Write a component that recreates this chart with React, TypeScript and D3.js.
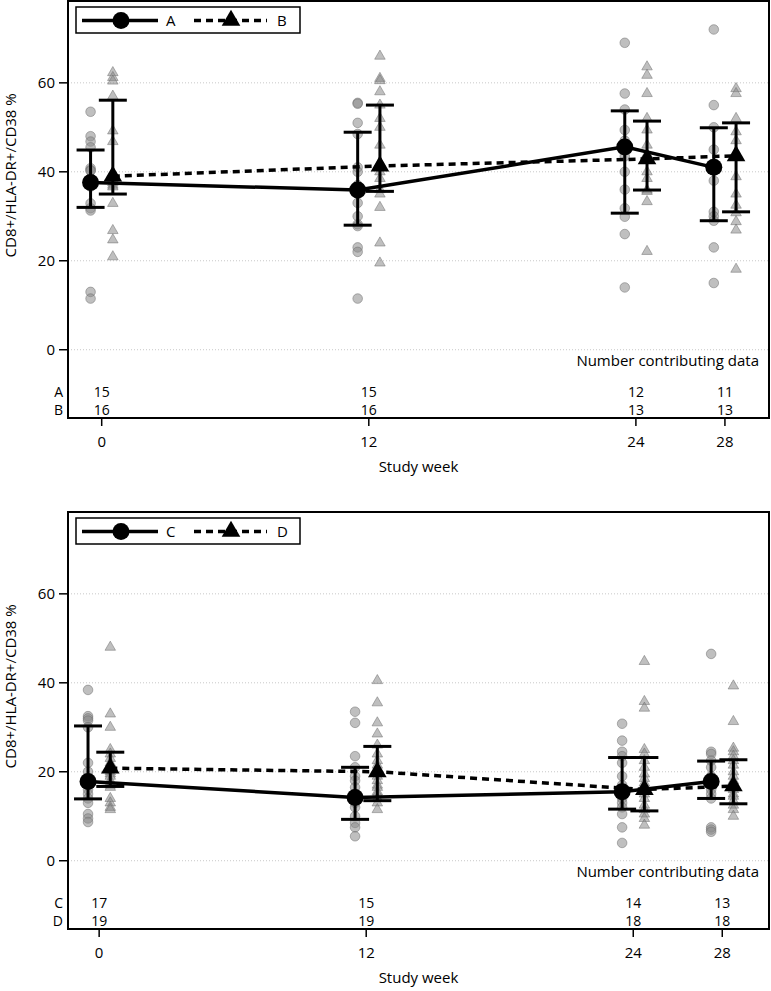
import React from "react";
import * as d3 from "d3";

const WEEKS = [0, 12, 24, 28];
const Y_TICKS = [0, 20, 40, 60];

// Top panel
const A_MEAN = [37.6, 35.9, 45.6, 41.0];
const A_LO = [32.0, 28.0, 30.7, 29.0];
const A_HI = [44.9, 48.9, 53.7, 49.9];
const B_MEAN = [39.0, 41.3, 42.9, 43.6];
const B_LO = [35.0, 35.6, 35.9, 31.0];
const B_HI = [56.1, 55.0, 51.4, 51.0];
const A_N = [15, 15, 12, 11];
const B_N = [16, 16, 13, 13];
const A_PTS = [
  [53.5, 48, 46.8, 45.5, 40.8, 40.4, 40.2, 38.5, 37.5, 36.7, 32.9, 31.8, 31.3, 13, 11.5],
  [55.5, 55.3, 51, 48.5, 41, 40, 37, 35, 33, 30, 28.2, 27.8, 23, 22, 11.5],
  [69, 57.6, 54, 49.4, 47, 43.5, 40, 36, 31.8, 29.9, 26, 14],
  [72, 55, 50, 45, 41, 38, 31, 30, 29, 23, 15],
];
const B_PTS = [
  [62.3, 61.2, 60.4, 57, 49.2, 46.8, 39.7, 38.9, 38.5, 37.5, 37, 36.6, 32.9, 26.8, 24.7, 20.9],
  [66, 61, 60.5, 58, 55, 52, 50, 46, 42, 40, 38.5, 36, 35, 32, 24, 19.5],
  [63.6, 61.7, 57.6, 52, 49.4, 46, 44, 40, 38.5, 35.9, 35.6, 33.3, 22.1],
  [58.7, 57.6, 52, 49, 47, 44, 38.9, 35, 32.5, 30.8, 28.8, 26.9, 18.1],
];

// Bottom panel
const C_MEAN = [17.8, 14.2, 15.5, 17.8];
const C_LO = [13.9, 9.3, 11.6, 14.0];
const C_HI = [30.3, 21.0, 23.2, 22.4];
const D_MEAN = [20.8, 20.0, 16.0, 16.8];
const D_LO = [16.7, 13.5, 11.2, 12.8];
const D_HI = [24.4, 25.7, 23.2, 22.7];
const C_N = [17, 15, 14, 13];
const D_N = [19, 19, 18, 18];
const C_PTS = [
  [38.4, 32.5, 32, 31.5, 30, 22, 20, 18, 17.5, 17, 16, 15, 14, 13, 10.5, 9.5, 8.7],
  [33.5, 31, 23.5, 21, 19, 18, 16.5, 15, 14, 13, 12, 10, 8.5, 7.5, 5.5],
  [30.8, 27, 24.5, 23.5, 22, 19, 17, 15.5, 14, 13, 12, 10.5, 7.5, 4],
  [46.5, 24.5, 24, 22.5, 21, 19, 17.5, 16, 15, 14, 7.5, 7, 6.5],
];
const D_PTS = [
  [48, 33, 30, 25, 24, 23, 22, 21, 20, 19.5, 19, 18, 17.5, 17, 16.5, 14, 13, 12, 11.5],
  [40.5, 35.5, 31, 28.5, 26, 24, 22.5, 21.5, 20.5, 20, 19, 18, 17, 16.5, 15.5, 15, 14, 13, 11.5],
  [44.8, 35.8, 34.3, 25, 24, 22.5, 21, 19.5, 18.5, 17.5, 16.5, 15, 14, 12.5, 11.5, 10.5, 9.5, 8],
  [39.3, 31.3, 25.3, 24.5, 23.5, 22.5, 21.5, 20, 19, 18, 17, 16, 15, 14.5, 13.5, 12.5, 11.5, 10],
];

const FONT = "'Open Sans', 'Noto Sans', sans-serif";
const OFFSET = 0.5;

type PanelProps = {
  top: number;
  xDomain: [number, number];
  names: [string, string];
  mean1: number[]; lo1: number[]; hi1: number[]; pts1: number[][]; n1: number[];
  mean2: number[]; lo2: number[]; hi2: number[]; pts2: number[][]; n2: number[];
};

function Panel(p: PanelProps) {
  const left = 68, right = 769;
  const frameTop = p.top, frameBottom = p.top + 417;
  const x = d3.scaleLinear().domain(p.xDomain).range([left, right]);
  const y = d3.scaleLinear().domain([-15.35, 78.4]).range([frameBottom, frameTop]);
  const tri = (size: number) => d3.symbol(d3.symbolTriangle, size)()!;
  const line = d3.line<number>();
  const l1 = d3.line<number>().x((_, i) => x(WEEKS[i] - OFFSET)).y((v) => y(v));
  const l2 = d3.line<number>().x((_, i) => x(WEEKS[i] + OFFSET)).y((v) => y(v));
  const ptFill = "#8a8a8a";
  const capW = 14;
  const y0 = y(0);
  const errBars = (lo: number[], hi: number[], off: number) =>
    WEEKS.map((w, i) => {
      const cx = x(w + off);
      return (
        <g key={i} stroke="#000" strokeWidth={3}>
          <line x1={cx} x2={cx} y1={y(lo[i])} y2={y(hi[i])} />
          <line x1={cx - capW} x2={cx + capW} y1={y(lo[i])} y2={y(lo[i])} />
          <line x1={cx - capW} x2={cx + capW} y1={y(hi[i])} y2={y(hi[i])} />
        </g>
      );
    });
  return (
    <g fontFamily={FONT}>
      {Y_TICKS.map((t) => (
        <line key={t} x1={left} x2={right} y1={y(t)} y2={y(t)} stroke="#c8c8c8" strokeWidth={1} strokeDasharray="1,2" />
      ))}
      {/* individual points */}
      {p.pts1.map((arr, i) =>
        arr.map((v, j) => (
          <circle key={`c${i}-${j}`} cx={x(WEEKS[i] - OFFSET)} cy={y(v)} r={4.8}
            fill={ptFill} fillOpacity={0.55} stroke="#6e6e6e" strokeOpacity={0.5} strokeWidth={1} />
        ))
      )}
      {p.pts2.map((arr, i) =>
        arr.map((v, j) => (
          <path key={`t${i}-${j}`} d={tri(48)} transform={`translate(${x(WEEKS[i] + OFFSET)},${y(v)})`}
            fill={ptFill} fillOpacity={0.55} stroke="#6e6e6e" strokeOpacity={0.5} strokeWidth={1} />
        ))
      )}
      {/* mean lines */}
      <path d={l1(p.mean1)!} fill="none" stroke="#000" strokeWidth={3.5} />
      <path d={l2(p.mean2)!} fill="none" stroke="#000" strokeWidth={3.5} strokeDasharray="7,5" />
      {errBars(p.lo1, p.hi1, -OFFSET)}
      {errBars(p.lo2, p.hi2, OFFSET)}
      {p.mean1.map((v, i) => (
        <circle key={`m1${i}`} cx={x(WEEKS[i] - OFFSET)} cy={y(v)} r={8.5} fill="#000" />
      ))}
      {p.mean2.map((v, i) => (
        <path key={`m2${i}`} d={tri(150)} transform={`translate(${x(WEEKS[i] + OFFSET)},${y(v)})`} fill="#000" />
      ))}
      {/* frame */}
      <rect x={left} y={frameTop} width={right - left} height={frameBottom - frameTop} fill="none" stroke="#000" strokeWidth={2} />
      {/* y axis */}
      {Y_TICKS.map((t) => (
        <g key={t}>
          <line x1={left - 9} x2={left} y1={y(t)} y2={y(t)} stroke="#000" strokeWidth={1.5} />
          <text x={left - 13} y={y(t)} dy="0.35em" textAnchor="end" fontSize={15}>{t}</text>
        </g>
      ))}
      <text transform={`translate(16,${(y0 + frameTop) / 2}) rotate(-90)`} textAnchor="middle" fontSize={15}>
        CD8+/HLA-DR+/CD38 %
      </text>
      {/* x axis */}
      {WEEKS.map((w) => (
        <g key={w}>
          <line x1={x(w)} x2={x(w)} y1={frameBottom} y2={frameBottom + 8} stroke="#000" strokeWidth={1.5} />
          <text x={x(w)} y={frameBottom + 24} dy="0.35em" textAnchor="middle" fontSize={15}>{w}</text>
          <text x={x(w)} y={y0 + 42} dy="0.35em" textAnchor="middle" fontSize={14}>{p.n1[WEEKS.indexOf(w)]}</text>
          <text x={x(w)} y={y0 + 60} dy="0.35em" textAnchor="middle" fontSize={14}>{p.n2[WEEKS.indexOf(w)]}</text>
        </g>
      ))}
      <text x={left - 5} y={y0 + 42} dy="0.35em" textAnchor="end" fontSize={14}>{p.names[0]}</text>
      <text x={left - 5} y={y0 + 60} dy="0.35em" textAnchor="end" fontSize={14}>{p.names[1]}</text>
      <text x={right - 10} y={y0 + 11} dy="0.35em" textAnchor="end" fontSize={15}>Number contributing data</text>
      <text x={(left + right) / 2} y={frameBottom + 49} dy="0.35em" textAnchor="middle" fontSize={15}>Study week</text>
      {/* legend */}
      <g>
        <rect x={76} y={frameTop + 6} width={224} height={26} fill="#fff" stroke="#000" strokeWidth={1.5} />
        <line x1={82} x2={158} y1={frameTop + 19.5} y2={frameTop + 19.5} stroke="#000" strokeWidth={3.5} />
        <circle cx={121} cy={frameTop + 19.5} r={8.5} fill="#000" />
        <text x={166} y={frameTop + 19.5} dy="0.35em" fontSize={15}>{p.names[0]}</text>
        <line x1={194} x2={267} y1={frameTop + 19.5} y2={frameTop + 19.5} stroke="#000" strokeWidth={3.5} strokeDasharray="7,5" />
        <path d={tri(150)} transform={`translate(231,${frameTop + 19.5})`} fill="#000" />
        <text x={277} y={frameTop + 19.5} dy="0.35em" fontSize={15}>{p.names[1]}</text>
      </g>
    </g>
  );
}

export default function App() {
  return (
    <svg width={771} height={991} style={{ position: "absolute", left: 0, top: 0, background: "#fff" }}>
      <rect width={771} height={991} fill="#fff" />
      <Panel top={1} xDomain={[-1.514, 29.98]} names={["A", "B"]}
        mean1={A_MEAN} lo1={A_LO} hi1={A_HI} pts1={A_PTS} n1={A_N}
        mean2={B_MEAN} lo2={B_LO} hi2={B_HI} pts2={B_PTS} n2={B_N} />
      <Panel top={512} xDomain={[-1.4, 30.1]} names={["C", "D"]}
        mean1={C_MEAN} lo1={C_LO} hi1={C_HI} pts1={C_PTS} n1={C_N}
        mean2={D_MEAN} lo2={D_LO} hi2={D_HI} pts2={D_PTS} n2={D_N} />
    </svg>
  );
}
